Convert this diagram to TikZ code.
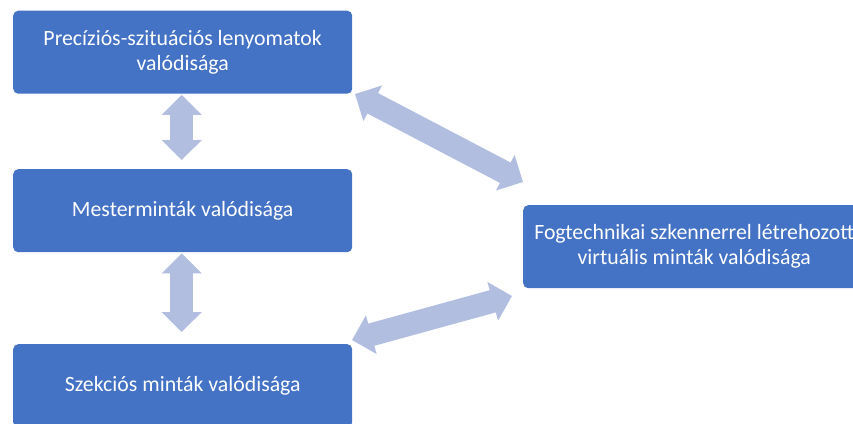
\documentclass[tikz,border=0pt]{standalone}
\usepackage{fontspec}
\setmainfont{Carlito}
\usetikzlibrary{arrows.meta,calc}
\definecolor{boxblue}{RGB}{68,114,196}
\definecolor{arrowblue}{RGB}{177,190,224}
\tikzset{
  x=1pt,y=-1pt,
  box/.style={draw=none,fill=boxblue,rounded corners=5pt,minimum width=339pt,minimum height=83pt,
    text=white,align=center,font=\fontsize{21.8}{25}\selectfont,inner sep=0pt,anchor=north west},
  blockarrow/.style={draw=arrowblue,line width=23pt,
    {Triangle[length=20pt,width=39pt]}-{Triangle[length=20pt,width=39pt]}}
}
\begin{document}
\begin{tikzpicture}
\useasboundingbox (0,0) rectangle (853,423);
\node[box] (b1) at (13,10.5) {Precíziós-szituációs lenyomatok\\valódisága};
\node[box] (b2) at (13,169) {Mesterminták valódisága};
\node[box] (b3) at (13,344) {Szekciós minták valódisága};
\node[box,minimum width=342pt] (b4) at (523,205) {Fogtechnikai szkennerrel létrehozott\\virtuális minták valódisága};
\coordinate (d1a) at (355,94);
\coordinate (d1b) at (523,182);
\coordinate (d2a) at (352,340);
\coordinate (d2b) at (512,296);
\draw[blockarrow] ([shift={(-1,1)}]b1.south) -- ([shift={(-1,-9)}]b2.north);
\draw[blockarrow] ([shift={(-1,1)}]b2.south) -- ([shift={(-1,-12)}]b3.north);
\draw[blockarrow] (d1a) -- (d1b);
\draw[blockarrow] (d2a) -- (d2b);
\end{tikzpicture}
\end{document}
